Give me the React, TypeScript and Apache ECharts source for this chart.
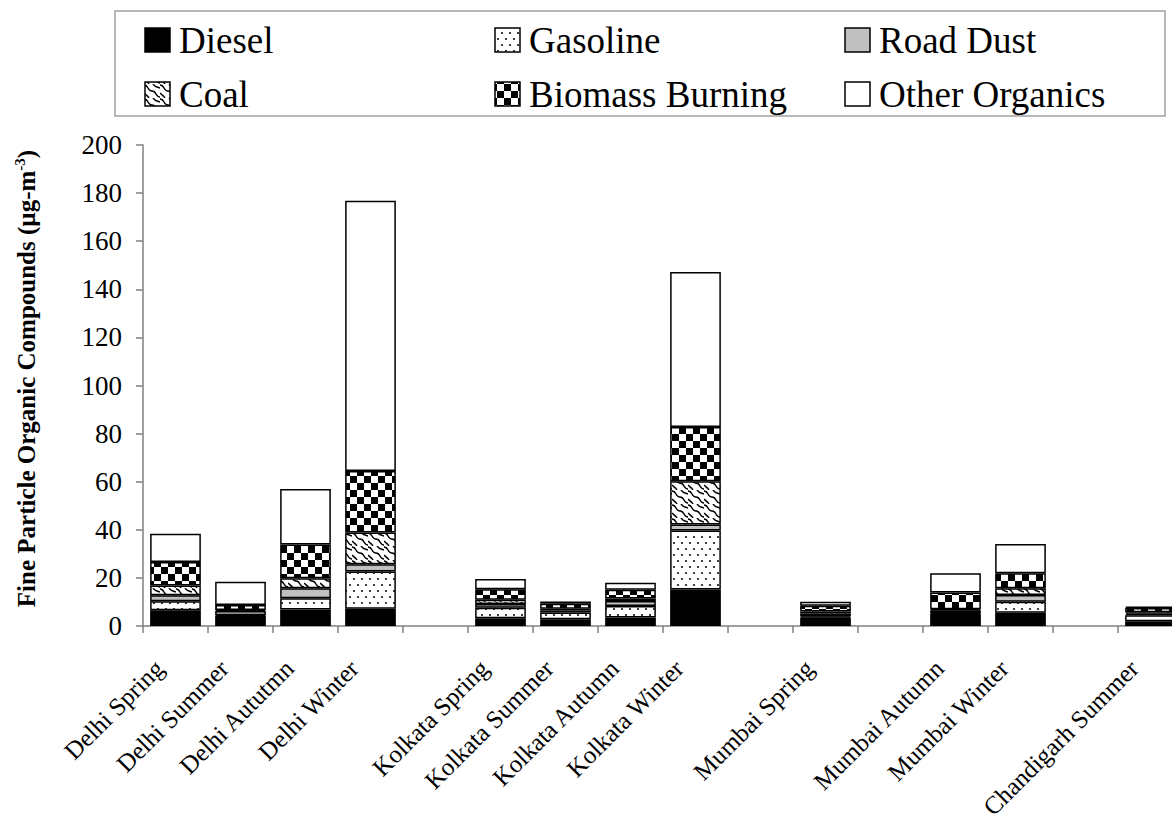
import React, { useEffect, useRef } from "react";
import * as echarts from "echarts";

// Sampling periods along the x axis (blank entries separate the cities)
const categories = [
  "Delhi Spring",
  "Delhi Summer",
  "Delhi Aututmn",
  "Delhi Winter",
  " ",
  "Kolkata Spring",
  "Kolkata Summer",
  "Kolkata Autumn",
  "Kolkata Winter",
  "  ",
  "Mumbai Spring",
  "   ",
  "Mumbai Autumn",
  "Mumbai Winter",
  "    ",
  "Chandigarh Summer",
];

// Source contributions, µg/m³
const diesel = [6.5, 4.2, 6.9, 7.2, null, 3.2, 2.8, 3.5, 15.2, null, 3.5, null, 5.1, 5.5, null, 2.0];
const gasoline = [3.8, 0.3, 4.6, 15.5, null, 4.4, 2.8, 4.8, 24.5, null, 0.5, null, 0.3, 4.6, null, 2.5];
const roadDust = [2.5, 1.7, 4.2, 3.0, null, 1.5, 0.8, 2.1, 2.5, null, 1.2, null, 1.1, 2.8, null, 0.6];
const coal = [4.0, 0.5, 4.2, 13.2, null, 1.8, 0.8, 1.0, 18.0, null, 0.8, null, 0.5, 2.8, null, 0.6];
const biomass = [9.8, 2.0, 14.0, 25.6, null, 4.4, 2.0, 3.7, 22.5, null, 2.4, null, 6.9, 6.2, null, 1.8];
const otherOrganics = [11.8, 9.7, 23.1, 112.3, null, 4.2, 1.0, 2.9, 64.5, null, 1.7, null, 8.0, 12.2, null, 0.5];

const yMin = 0;
const yMax = 200;
const yStep = 20;

const FONT = "Liberation Serif";

// Repeating SVG tile used as a bar fill
function tile(body: string, w: number, h: number) {
  const svg = `<svg xmlns="http://www.w3.org/2000/svg" width="${w}" height="${h}"><rect width="${w}" height="${h}" fill="#fff"/>${body}</svg>`;
  return {
    image: "data:image/svg+xml;charset=utf-8," + encodeURIComponent(svg),
    repeat: "repeat",
    imageWidth: w,
    imageHeight: h,
  };
}

const dotsFill = tile(
  `<circle cx="2" cy="3" r="1" fill="#000"/><circle cx="6" cy="9" r="1" fill="#000"/>`,
  8,
  12
);
const weaveFill = tile(
  `<path d="M0 1 C5 1 3 7 8 7 S11 13 16 13" fill="none" stroke="#000" stroke-width="1.4"/>` +
    `<path d="M9 0 C11 3 13 3 16 4" fill="none" stroke="#000" stroke-width="1.4"/>` +
    `<path d="M0 9 C2 11 4 12 5 14" fill="none" stroke="#000" stroke-width="1.4"/>`,
  16,
  14
);
const checkerFill = tile(
  `<rect x="0" y="0" width="7" height="7" fill="#000"/><rect x="7" y="7" width="7" height="7" fill="#000"/>`,
  14,
  14
);

const seriesDefs = [
  { name: "Diesel", data: diesel, fill: "#000000" },
  { name: "Gasoline", data: gasoline, fill: dotsFill },
  { name: "Road Dust", data: roadDust, fill: "#c0c0c0" },
  { name: "Coal", data: coal, fill: weaveFill },
  { name: "Biomass Burning", data: biomass, fill: checkerFill },
  { name: "Other Organics", data: otherOrganics, fill: "#ffffff" },
];

// Legend key: three columns, two rows, inside a framed box
const legendColumnX = [145, 495, 845];
const legendRowY = [40, 94];

function legendGraphics() {
  const items: any[] = [
    {
      type: "rect",
      shape: { x: 115, y: 11, width: 1050, height: 105 },
      style: { fill: "none", stroke: "#a0a0a0", lineWidth: 1.5 },
      silent: true,
    },
  ];
  seriesDefs.forEach((s, i) => {
    const x = legendColumnX[i % 3];
    const y = legendRowY[Math.floor(i / 3)];
    items.push({
      type: "rect",
      shape: { x, y: y - 12, width: 25, height: 24 },
      style: { fill: s.fill, stroke: "#000", lineWidth: 1.5 },
      silent: true,
    });
    items.push({
      type: "text",
      x: x + 34,
      y: y,
      style: {
        text: s.name,
        fontFamily: FONT,
        fontSize: 37,
        fill: "#000",
        align: "left",
        verticalAlign: "middle",
      },
      silent: true,
    });
  });
  return items;
}

export default function App() {
  const ref = useRef<HTMLDivElement>(null);

  useEffect(() => {
    if (!ref.current) return;
    const chart = echarts.init(ref.current, null, { renderer: "svg" });
    const axisGray = "#808080";

    chart.setOption({
      animation: false,
      backgroundColor: "#ffffff",
      textStyle: { fontFamily: FONT },
      graphic: legendGraphics(),
      grid: {
        left: 143,
        top: 145,
        right: -11,
        bottom: 196,
        containLabel: false,
        outerBoundsMode: "none",
      },
      xAxis: {
        type: "category",
        data: categories,
        axisLine: { show: true, lineStyle: { color: axisGray, width: 1.5 } },
        axisTick: {
          show: true,
          length: 7,
          interval: 0,
          alignWithLabel: false,
          lineStyle: { color: axisGray, width: 1.5 },
        },
        axisLabel: {
          interval: 0,
          rotate: 45,
          margin: 22,
          padding: [0, 23, 0, 0],
          fontFamily: FONT,
          fontSize: 25,
          color: "#000",
        },
        splitLine: { show: false },
      },
      yAxis: {
        type: "value",
        min: yMin,
        max: yMax,
        interval: yStep,
        name: "{a|Fine Particle Organic Compounds (µg-m}{s|-3}{a|)}",
        nameLocation: "middle",
        nameGap: 103,
        nameRotate: 90,
        nameTextStyle: {
          padding: [0, 0, 0, 14],
          rich: {
            a: { fontFamily: FONT, fontSize: 25, fontWeight: "bold", color: "#000" },
            s: {
              fontFamily: FONT,
              fontSize: 15,
              fontWeight: "bold",
              color: "#000",
              padding: [0, 0, 13, 0],
            },
          },
        },
        axisLine: { show: true, lineStyle: { color: axisGray, width: 1.5 } },
        axisTick: { show: true, length: 7, lineStyle: { color: axisGray, width: 1.5 } },
        axisLabel: { margin: 21, fontFamily: FONT, fontSize: 27, color: "#000" },
        splitLine: { show: false },
      },
      series: seriesDefs.map((s) => ({
        name: s.name,
        type: "bar",
        stack: "total",
        barWidth: "78%",
        data: s.data,
        itemStyle: { color: s.fill, borderColor: "#000", borderWidth: 1.5 },
        emphasis: { disabled: true },
      })),
    });

    return () => chart.dispose();
  }, []);

  return (
    <div
      ref={ref}
      style={{ position: "fixed", left: 0, top: 0, width: 1172, height: 822 }}
    />
  );
}
